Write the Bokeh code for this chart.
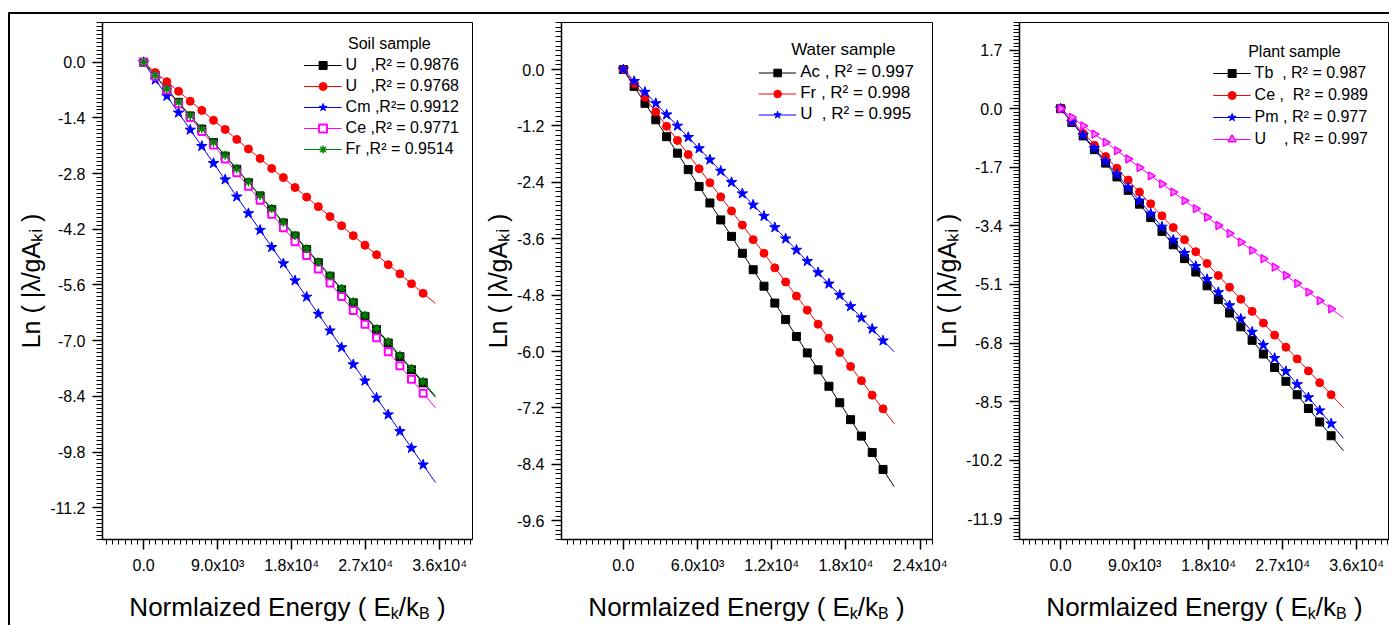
import numpy as np
from bokeh.plotting import figure
from bokeh.models import FixedTicker, Legend, LegendItem, NumeralTickFormatter, Spacer
from bokeh.core.properties import value
from bokeh.layouts import row, column
from bokeh.embed import file_html
from bokeh.resources import INLINE

FONT = "Liberation Sans"
NB = "\u00a0"

# ---------------- data ----------------
soil_x = [0, 1420, 2830, 4250, 5670, 7080, 8500, 9920, 11330, 12750, 14170, 15580, 17000,
          18420, 19830, 21250, 22670, 24080, 25500, 26920, 28330, 29750, 31170, 32580, 34000]
soil_U1 = [0.0, -0.33, -0.68, -1.01, -1.35, -1.68, -2.02, -2.36, -2.69, -3.03, -3.36, -3.70, -4.04,
           -4.37, -4.71, -5.04, -5.38, -5.72, -6.05, -6.39, -6.72, -7.06, -7.40, -7.73, -8.06]
soil_U2 = [0.0, -0.26, -0.49, -0.73, -0.98, -1.21, -1.46, -1.69, -1.94, -2.18, -2.42, -2.67, -2.90,
           -3.15, -3.39, -3.63, -3.88, -4.11, -4.36, -4.60, -4.84, -5.09, -5.32, -5.57, -5.81]
soil_Cm = [0.0, -0.44, -0.85, -1.27, -1.70, -2.11, -2.54, -2.95, -3.38, -3.80, -4.22, -4.65, -5.06,
           -5.49, -5.90, -6.33, -6.75, -7.17, -7.60, -8.01, -8.44, -8.86, -9.28, -9.70, -10.12]
soil_Ce = [0.0, -0.35, -0.70, -1.04, -1.39, -1.74, -2.08, -2.43, -2.78, -3.12, -3.47, -3.82, -4.16,
           -4.51, -4.86, -5.20, -5.55, -5.89, -6.24, -6.59, -6.93, -7.28, -7.63, -7.97, -8.32]
soil_Fr = [0.0, -0.33, -0.67, -1.00, -1.34, -1.67, -2.01, -2.34, -2.68, -3.01, -3.35, -3.68, -4.02,
           -4.35, -4.69, -5.02, -5.36, -5.69, -6.03, -6.36, -6.70, -7.03, -7.37, -7.70, -8.03]
soil_labels = ["U" + NB * 3 + ",R² = 0.9876", "U" + NB * 3 + ",R² = 0.9768", "Cm ,R²= 0.9912",
               "Ce ,R² = 0.9771", "Fr ,R² = 0.9514"]
soil_fit_end = 35500

water_x = [0, 875, 1750, 2625, 3500, 4375, 5250, 6125, 7000, 7875, 8750, 9625, 10500, 11375, 12250,
           13125, 14000, 14875, 15750, 16625, 17500, 18375, 19250, 20125, 21000]
water_Ac = [0.0, -0.36, -0.72, -1.07, -1.43, -1.78, -2.13, -2.49, -2.84, -3.20, -3.55, -3.91, -4.26,
            -4.61, -4.97, -5.32, -5.68, -6.03, -6.39, -6.74, -7.09, -7.45, -7.80, -8.15, -8.51]
water_Fr = [0.0, -0.30, -0.59, -0.90, -1.21, -1.51, -1.81, -2.11, -2.41, -2.71, -3.01, -3.31, -3.62,
            -3.91, -4.22, -4.52, -4.82, -5.12, -5.42, -5.72, -6.02, -6.32, -6.62, -6.93, -7.22]
water_U = [0.0, -0.25, -0.48, -0.72, -0.96, -1.20, -1.44, -1.68, -1.92, -2.16, -2.40, -2.64, -2.88,
           -3.12, -3.36, -3.60, -3.84, -4.08, -4.32, -4.56, -4.80, -5.04, -5.28, -5.52, -5.77]
water_labels = ["Ac , R² = 0.997", "Fr , R² = 0.998", "U" + NB * 2 + ", R² = 0.995"]
water_fit_end = 21900

plant_x = [0, 1370, 2740, 4110, 5480, 6850, 8220, 9590, 10960, 12330, 13700, 15070, 16440, 17810,
           19180, 20550, 21920, 23290, 24660, 26030, 27400, 28770, 30140, 31510, 32900]
plant_Tb = [0.0, -0.40, -0.79, -1.19, -1.58, -1.98, -2.37, -2.77, -3.16, -3.56, -3.95, -4.35, -4.74,
            -5.14, -5.54, -5.93, -6.33, -6.72, -7.12, -7.51, -7.91, -8.30, -8.70, -9.09, -9.49]
plant_Ce = [0.0, -0.37, -0.72, -1.06, -1.39, -1.73, -2.07, -2.42, -2.76, -3.11, -3.45, -3.80, -4.15,
            -4.49, -4.84, -5.18, -5.53, -5.88, -6.22, -6.57, -6.92, -7.26, -7.61, -7.95, -8.30]
plant_Pm = [0.0, -0.39, -0.77, -1.15, -1.53, -1.91, -2.29, -2.67, -3.05, -3.43, -3.81, -4.19, -4.57,
            -4.95, -5.33, -5.71, -6.10, -6.48, -6.86, -7.24, -7.62, -8.00, -8.38, -8.76, -9.14]
plant_U = [0.0, -0.25, -0.50, -0.74, -0.98, -1.22, -1.46, -1.71, -1.95, -2.18, -2.42, -2.67, -2.90,
           -3.15, -3.39, -3.62, -3.87, -4.11, -4.35, -4.60, -4.84, -5.07, -5.32, -5.57, -5.81]
plant_labels = ["Tb" + NB * 2 + ", R² = 0.987", "Ce ," + NB * 2 + "R² = 0.989", "Pm , R² = 0.977",
                "U" + NB * 4 + ", R² = 0.997"]
plant_fit_end = 34400

# ticks and titles
soil_xticks = [0, 9000, 18000, 27000, 36000]
soil_xtick_labels = ["0.0", "9.0x10³", "1.8x10⁴", "2.7x10⁴", "3.6x10⁴"]
water_xticks = [0, 6000, 12000, 18000, 24000]
water_xtick_labels = ["0.0", "6.0x10³", "1.2x10⁴", "1.8x10⁴", "2.4x10⁴"]
plant_xticks = soil_xticks
plant_xtick_labels = soil_xtick_labels
soil_yticks = [0.0, -1.4, -2.8, -4.2, -5.6, -7.0, -8.4, -9.8, -11.2]
water_yticks = [0.0, -1.2, -2.4, -3.6, -4.8, -6.0, -7.2, -8.4, -9.6]
plant_yticks = [1.7, 0.0, -1.7, -3.4, -5.1, -6.8, -8.5, -10.2, -11.9]
y_title = "Ln" + NB + "(" + NB + "|λ/gAₖᵢ" + NB + ")"
x_title_parts = ["Normlaized Energy ( E", "k", "/k", "B", NB + ")"]

# ---------------- helpers ----------------
ARIAL = {"L": 556, "N": 722, "o": 556, "r": 333, "m": 833, "l": 222, "a": 556, "i": 222, "z": 500,
         "e": 556, "d": 556, "E": 667, "n": 556, "g": 556, "y": 500, "(": 333, ")": 333, "/": 278,
         "k": 500, "B": 667, " ": 278, NB: 278}


def tw(s, size):
    return sum(ARIAL.get(c, 556) for c in s) * size / 1000.0


ROW_H = 564
BOT_H = 47


def make_fig(width, bl, br, xr, yr, xticks, xlabels, xminor, yticks, yminor):
    p = figure(width=width, height=ROW_H, x_range=xr, y_range=yr, output_backend="svg",
               toolbar_location=None, min_border_left=bl, min_border_right=br,
               min_border_top=8, min_border_bottom=39)
    p.grid.visible = False
    p.outline_line_color = "black"
    p.outline_line_width = 1
    p.background_fill_color = "white"
    p.border_fill_color = "white"
    p.xaxis.ticker = FixedTicker(ticks=xticks, minor_ticks=xminor)
    p.xaxis.major_label_overrides = {t: l for t, l in zip(xticks, xlabels)}
    p.yaxis.ticker = FixedTicker(ticks=yticks, minor_ticks=yminor)
    p.yaxis.formatter = NumeralTickFormatter(format="0.0")
    for ax in (p.xaxis[0], p.yaxis[0]):
        ax.axis_line_color = "black"
        ax.axis_line_width = 1.5
        ax.major_tick_in = 0
        ax.major_tick_out = 10
        ax.minor_tick_in = 0
        ax.major_tick_line_width = 1.5
        ax.minor_tick_line_width = 1
        ax.major_label_text_font = FONT
        ax.major_label_text_font_size = "16px"
        ax.major_label_text_color = "black"
        ax.major_label_standoff = 7
    p.xaxis.minor_tick_out = 5
    p.yaxis.minor_tick_out = 6
    p.yaxis.axis_label = y_title
    p.yaxis.axis_label_text_font = FONT
    p.yaxis.axis_label_text_font_size = "25px"
    p.yaxis.axis_label_text_font_style = "normal"
    p.yaxis.axis_label_text_color = "black"
    p.yaxis.axis_label_standoff = 2
    return p


def add_series(p, x, y, fit_end, color, marker, size, fill=None, lw=1, angle=0.0):
    k, b = np.polyfit(x, y, 1)
    xs = [0, fit_end]
    lr = p.line(xs, [b + k * v for v in xs], line_color=color, line_width=1)
    sr = p.scatter(x, y, marker=marker, size=size, line_color=color,
                   fill_color=fill if fill else color, line_width=lw, angle=angle)
    return [lr, sr]


def add_legend(p, title, labels, rends, margin, h, spacing, fs):
    items = [LegendItem(label=l, renderers=r) for l, r in zip(labels, rends)]
    lg = Legend(items=items, location="top_right", margin=margin, padding=3,
                title=title, title_text_font=FONT, title_text_font_size=fs,
                title_text_font_style="normal", title_text_color="black", title_standoff=2,
                label_text_font=FONT, label_text_font_size=fs, label_text_color="black",
                glyph_width=38, glyph_height=h, label_height=h, label_standoff=4,
                spacing=spacing, background_fill_alpha=0, border_line_alpha=0)
    p.add_layout(lg)


def rng(a, b, s):
    return [round(v, 2) for v in np.arange(a, b + s / 2, s)]


def strip(width, height, xr, yr):
    f = figure(width=width, height=height, x_range=xr, y_range=yr, output_backend="svg",
               toolbar_location=None, x_axis_type=None, y_axis_type=None,
               min_border_left=0, min_border_right=0, min_border_top=0, min_border_bottom=0)
    f.grid.visible = False
    f.outline_line_color = None
    f.background_fill_color = "white"
    f.border_fill_color = "white"
    return f


def vline(h):
    return Spacer(width=2, height=h, styles={"background-color": "black"})


# ---------------- soil ----------------
p1 = make_fig(470, 92, 8, (-5000, 40000), (-12, 1), soil_xticks, soil_xtick_labels,
              rng(-4500, 39750, 750), soil_yticks, rng(-12, 1, 0.1))
r1 = [add_series(p1, soil_x, soil_U1, soil_fit_end, "#000000", "square", 8),
      add_series(p1, soil_x, soil_U2, soil_fit_end, "#FF0000", "circle", 8),
      add_series(p1, soil_x, soil_Cm, soil_fit_end, "#0000FF", "star", 11),
      add_series(p1, soil_x, soil_Ce, soil_fit_end, "#FF00FF", "square", 7, fill="#FFFFFF", lw=2),
      add_series(p1, soil_x, soil_Fr, soil_fit_end, "#008000", "asterisk", 9, lw=1.5)]
add_legend(p1, NB * 10 + "Soil sample", soil_labels, r1, 10, 20, 1, "16px")

# ---------------- water ----------------
p2 = make_fig(470, 80, 18, (-5000, 25000), (-10, 1), water_xticks, water_xtick_labels,
              rng(-4500, 25000, 500), water_yticks, rng(-10, 1, 0.1))
r2 = [add_series(p2, water_x, water_Ac, water_fit_end, "#000000", "square", 8),
      add_series(p2, water_x, water_Fr, water_fit_end, "#FF0000", "circle", 8),
      add_series(p2, water_x, water_U, water_fit_end, "#0000FF", "star", 11)]
add_legend(p2, NB * 7 + "Water sample", water_labels, r2, 15, 19, 1, "17px")

# ---------------- plant ----------------
p3 = make_fig(462, 92, 0, (-5000, 40000), (-12.5, 2.5), plant_xticks, plant_xtick_labels,
              rng(-4500, 39750, 750), plant_yticks, rng(-12.5, 2.5, 0.1))
r3 = [add_series(p3, plant_x, plant_Tb, plant_fit_end, "#000000", "square", 8),
      add_series(p3, plant_x, plant_Ce, plant_fit_end, "#FF0000", "circle", 8),
      add_series(p3, plant_x, plant_Pm, plant_fit_end, "#0000FF", "star", 11),
      add_series(p3, plant_x, plant_U, plant_fit_end, "#FF00FF", "triangle", 8,
                 fill="#FF80FF", lw=1.5, angle=-np.pi / 2)]
add_legend(p3, NB * 8 + "Plant sample", plant_labels, r3, 18, 20, 2, "16px")
p3.border_fill_alpha = 0
p3.margin = (0, 0, 0, -23)

# ---------------- strips: outer border and x titles ----------------
top = strip(1389, 14, (0, 1389), (14, 0))
top.quad(left=[8], right=[1389], top=[12], bottom=[14], color="black")

bottom = strip(1379, BOT_H, (10, 1389), (625, 578))

BIG, SMALL = 26, 16
frames = [(102, 370), (560, 372), (1019, 370)]
sizes = [BIG, SMALL, BIG, SMALL, BIG]
drops = [0, 7, 0, 7, 0]
total = sum(tw(s, fs) for s, fs in zip(x_title_parts, sizes))
for fl, fw in frames:
    x = fl + (fw - total) / 2.0
    for s, fs, dy in zip(x_title_parts, sizes, drops):
        bottom.text(x=[x], y=[606 + dy], text=[s], text_font=value(FONT),
                    text_font_size=value(f"{fs}px"), text_color="black",
                    text_align="left", text_baseline="alphabetic")
        x += tw(s, fs)

layout = column(
    top,
    row(Spacer(width=8, height=ROW_H), vline(ROW_H), p1, p2, p3),
    row(Spacer(width=8, height=BOT_H), vline(BOT_H), bottom),
)

open("out.html", "w").write(file_html(layout, INLINE))
